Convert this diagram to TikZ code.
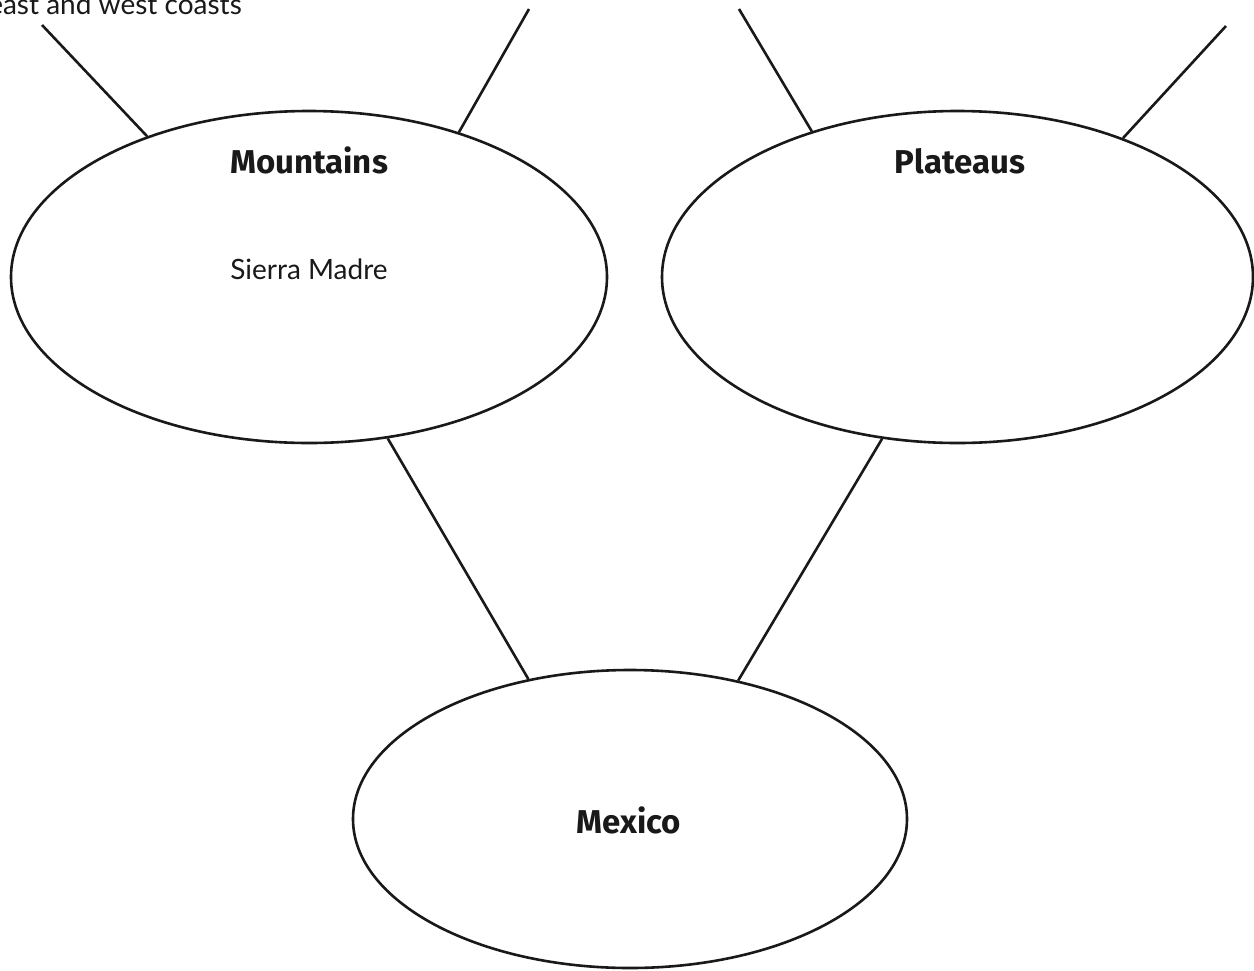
\documentclass[tikz,border=0pt]{standalone}
\usepackage{fontspec}
\newfontfamily\headfont{Fira Sans}
\newfontfamily\handfont{Lato}
\usetikzlibrary{shapes.geometric}
\begin{document}
\begin{tikzpicture}[x=1pt,y=-1pt,
  bubble/.style={ellipse, draw=black!90, line width=2.6pt, inner sep=0pt},
  link/.style={draw=black!90, line width=2.6pt},
  head/.style={font=\headfont\bfseries\fontsize{33}{37}\selectfont, text=black!90, anchor=base, inner sep=0pt},
  hand/.style={font=\handfont\fontsize{28}{32}\selectfont, text=black!90, anchor=base, inner sep=0pt}]
\useasboundingbox (0,0) rectangle (1254,970);
\fill[white] (0,0) rectangle (1254,970);
% ellipses
\node[bubble, minimum width=596pt, minimum height=332pt] (L) at (309,277) {};
\node[bubble, minimum width=591pt, minimum height=332pt] (R) at (957.5,277) {};
\node[bubble, minimum width=554pt, minimum height=298pt] (M) at (630,819) {};
% labels
\node[head] (tL) at (309,173) {Mountains};
\node[head] (tR) at (960,173) {Plateaus};
\node[head] (tM) at (629,833) {Mexico};
\node[hand] (sL) at (309,279) {Sierra Madre};
\node[hand, anchor=base east] (eL) at (242,14) {east and west coasts};
% free ends
\coordinate (c1) at (42,25);
\coordinate (c2) at (529,9);
\coordinate (c3) at (739,9);
\coordinate (c4) at (1226,26);
% connectors
\draw[link] (c1) -- (L.139.7);
\draw[link] (c2) -- (L.44.4);
\draw[link] (c3) -- (R.135.3);
\draw[link] (c4) -- (R.40.1);
\draw[link] (L.-64.7) -- (M.126.3);
\draw[link] (R.-115.1) -- (M.52.2);
\end{tikzpicture}
\end{document}
